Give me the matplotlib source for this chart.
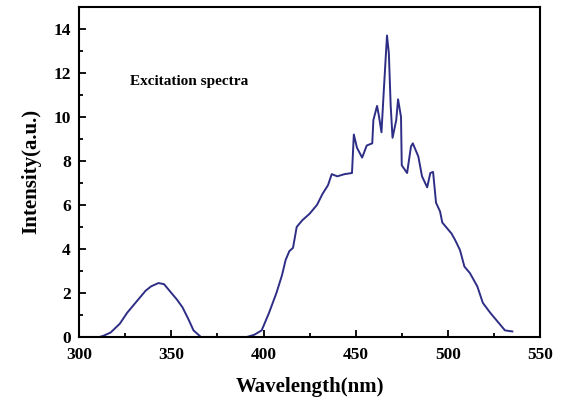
import matplotlib.pyplot as plt
from matplotlib.ticker import MultipleLocator

# Excitation spectrum
wavelength = [300, 311, 313, 317, 322, 326, 330, 333, 336, 339, 343, 346, 349, 353, 356,
              359, 362, 366, 380, 391, 395, 399, 403, 407, 410, 412, 414, 416, 418, 421,
              425, 429, 432, 435, 437, 440, 444, 448, 449, 450.7, 453.5, 456, 459, 459.6,
              461.6, 462.7, 464, 465.4, 467, 468, 469, 470, 472, 473, 474.6, 475, 477.9,
              480, 481, 484, 486, 488.8, 490.5, 492, 493.6, 495.8, 497, 500, 502, 504,
              506.6, 509, 512, 516, 519, 523, 527, 531, 535]
intensity = [0, 0, 0.05, 0.2, 0.6, 1.1, 1.5, 1.8, 2.1, 2.3, 2.45, 2.4, 2.1, 1.7, 1.35,
             0.85, 0.3, 0, 0, 0, 0.1, 0.3, 1.1, 2.0, 2.8, 3.5, 3.9, 4.05, 5.0, 5.3,
             5.6, 6.0, 6.5, 6.9, 7.4, 7.3, 7.4, 7.45, 9.2, 8.6, 8.15, 8.7, 8.8, 9.85,
             10.5, 10.0, 9.3, 11.4, 13.7, 12.9, 10.5, 9.05, 9.85, 10.8, 10.0, 7.8, 7.45,
             8.65, 8.8, 8.2, 7.3, 6.8, 7.45, 7.5, 6.1, 5.7, 5.2, 4.9, 4.7, 4.4,
             3.95, 3.2, 2.9, 2.3, 1.55, 1.1, 0.7, 0.3, 0.25]

plt.rcParams['font.family'] = 'Liberation Serif'
plt.rcParams['font.weight'] = 'bold'

fig = plt.figure(figsize=(5.66, 4.05), dpi=100)
ax = fig.add_axes([0.14, 0.168, 0.814, 0.815])

ax.plot(wavelength, intensity, color='#2e2e86', linewidth=1.4)

ax.set_xlim(300, 550)
ax.set_ylim(0, 15)
ax.xaxis.set_major_locator(MultipleLocator(50))
ax.xaxis.set_minor_locator(MultipleLocator(25))
ax.yaxis.set_major_locator(MultipleLocator(2))
ax.yaxis.set_minor_locator(MultipleLocator(1))
ax.tick_params(which='both', direction='in', width=1.3, labelsize=12.5)
ax.tick_params(which='major', length=5)
ax.tick_params(which='minor', length=3)
ax.tick_params(axis='x', pad=7)
ax.tick_params(axis='y', pad=6)
for s in ax.spines.values():
    s.set_linewidth(1.5)

for lab in ax.get_xticklabels() + ax.get_yticklabels():
    lab.set_fontweight('bold')

ax.set_xlabel('Wavelength(nm)', fontsize=15, fontweight='bold', labelpad=10)
ax.set_ylabel('Intensity(a.u.)', fontsize=15, fontweight='bold', labelpad=9)
ax.text(327.5, 11.6, 'Excitation spectra', fontsize=11, fontweight='bold', va='center')

fig.savefig('out.png', dpi=100)
